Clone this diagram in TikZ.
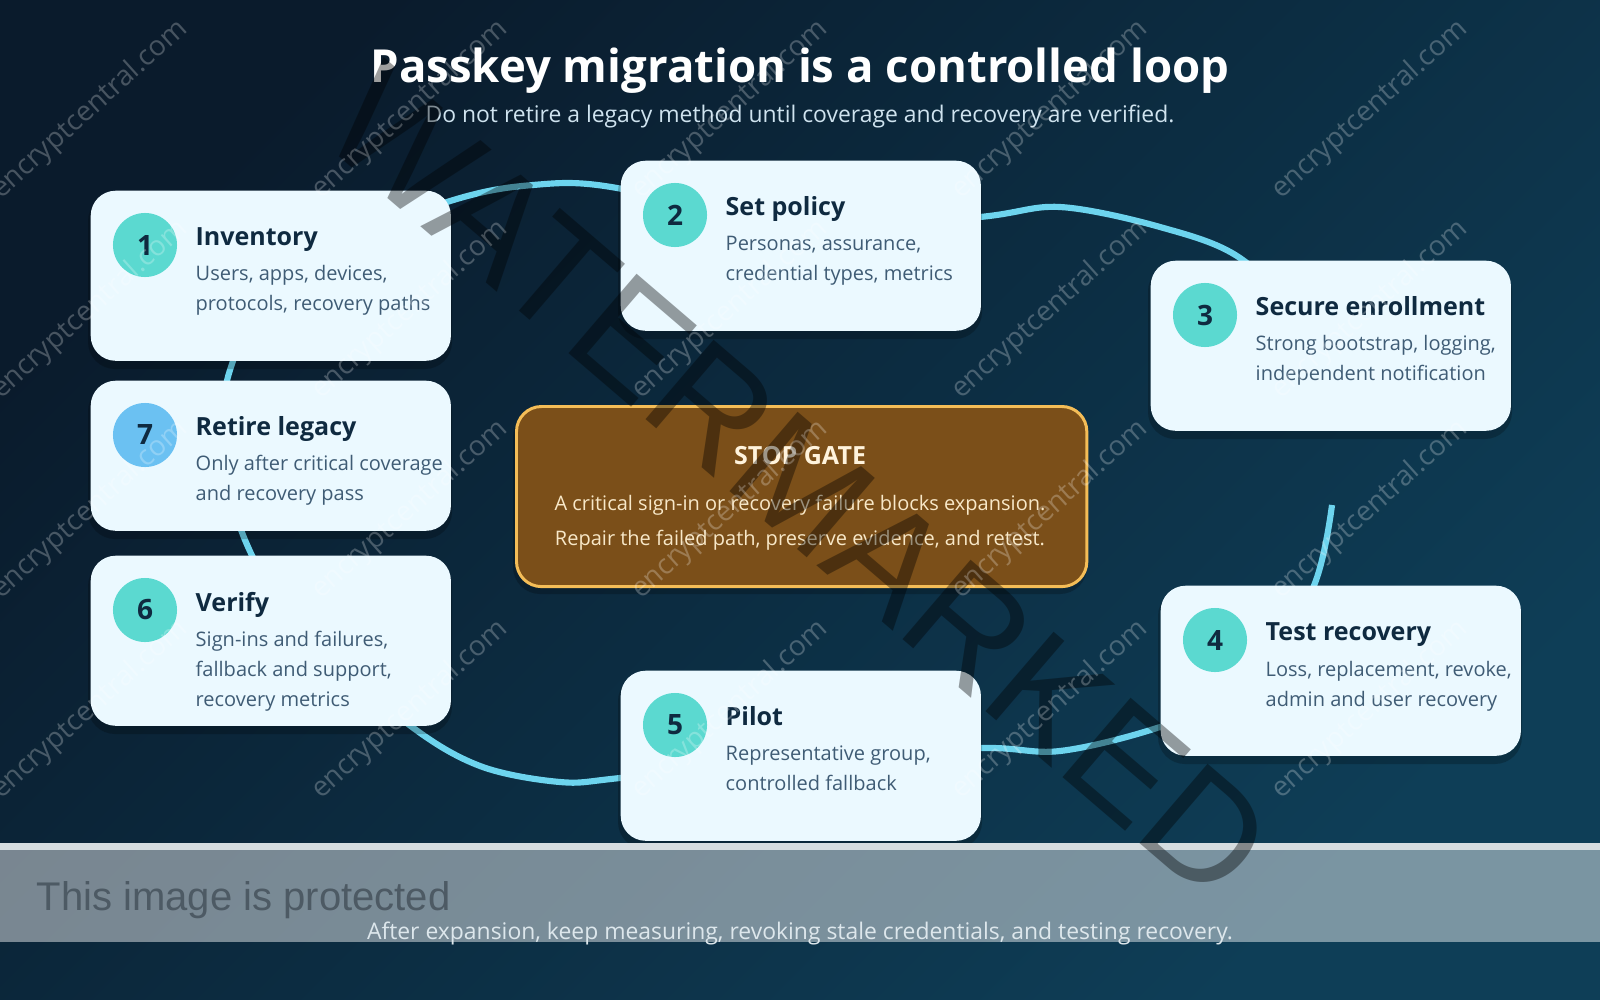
\documentclass[tikz,border=0pt]{standalone}
\usepackage{fontspec}
\setmainfont{Open Sans}
\newfontfamily\wmfont{Liberation Sans}
\definecolor{bgA}{HTML}{0A1B2C}
\definecolor{bgB}{HTML}{0E3E57}
\definecolor{cardfill}{HTML}{EBF9FF}
\definecolor{ink}{HTML}{0F2A40}
\definecolor{bodyc}{HTML}{3F5C75}
\definecolor{teal}{HTML}{5BD9D0}
\definecolor{sky}{HTML}{6BC1F2}
\definecolor{loopc}{HTML}{6DD4EE}
\definecolor{gatefill}{HTML}{7B4F19}
\definecolor{gateedge}{HTML}{F4BD57}
\definecolor{gatetitle}{HTML}{FFF3DC}
\definecolor{gatebody}{HTML}{F8E8C8}
\definecolor{subc}{HTML}{CFE3EF}
\definecolor{footc}{HTML}{DDE7EC}
\definecolor{protc}{HTML}{4D5A64}
\definecolor{bandline}{HTML}{D6DDE0}
\newcommand\pxs[2]{\fontsize{\fpeval{#1*0.28453}pt}{\fpeval{#2*0.28453}pt}\selectfont}
\begin{document}
\begin{tikzpicture}[x=0.01cm, y=-0.01cm,
  cardbox/.style={fill=cardfill, rounded corners=0.25cm, anchor=north west, minimum width=3.6cm, inner sep=0},
  cardshadow/.style={fill=black, opacity=0.22, rounded corners=0.27cm},
  numcirc/.style={circle, minimum size=0.64cm, inner sep=0, font=\bfseries\pxs{28}{30}, text=ink},
  cardtitle/.style={anchor=base west, inner sep=0, font=\bfseries\pxs{25}{30}, text=ink},
  cardbody/.style={anchor=base west, inner sep=0, font=\pxs{20}{30}, text=bodyc},
  loopline/.style={draw=loopc, line width=1.75pt},
  wmark/.style={text=white, opacity=0.25, font=\pxs{28}{30}, inner sep=0},
  bigmark/.style={text=black, opacity=0.38, font=\wmfont\pxs{152}{160}, inner sep=0}
 ]
\useasboundingbox (0,0) rectangle (1600,1000);
% background
\shade[top color=bgA, bottom color=bgB, shading angle=45] (0,0) rectangle (1600,1000);

% title
\node[anchor=base, inner sep=0, text=white, font=\bfseries\pxs{45.5}{50}] (title) at (800,82) {Passkey migration is a controlled loop};
\node[anchor=base, inner sep=0, text=subc, font=\pxs{22.9}{26}] (subtitle) at (800,122) {Do not retire a legacy method until coverage and recovery are verified.};

% loop
\draw[loopline] plot[smooth, tension=0.55] coordinates {
 (1332,505) (1315,583) (1262,685) (1160,727) (1060,751) (980,748) (800,757)
 (620,778) (560,782) (480,766) (408,724) (300,630) (245,540) (226,455) (230,370)
 (290,262) (447,202) (533,185) (617,188) (800,232) (980,217) (1060,207)
 (1160,227) (1240,258) (1310,330) (1335,420)};

% card shadows
\foreach \cx/\cy/\ch in {90/190/170, 620/160/170, 1150/260/170, 1160/585/170, 620/670/170, 90/555/170, 90/380/150}{
  \fill[cardshadow] (\cx-2,\cy+4) rectangle (\cx+362,\cy+\ch+9);
}

% card 1
\node[cardbox, minimum height=1.7cm] (card1) at (90,190) {};
\node[numcirc, fill=teal] (num1) at (145,245) {1};
\node[cardtitle] (title1) at (195,245) {Inventory};
\node[cardbody] (body1a) at (195,280) {Users, apps, devices,};
\node[cardbody] (body1b) at (195,310) {protocols, recovery paths};

% card 2
\node[cardbox, minimum height=1.7cm] (card2) at (620,160) {};
\node[numcirc, fill=teal] (num2) at (675,215) {2};
\node[cardtitle] (title2) at (725,215) {Set policy};
\node[cardbody] (body2a) at (725,250) {Personas, assurance,};
\node[cardbody] (body2b) at (725,280) {credential types, metrics};

% card 3
\node[cardbox, minimum height=1.7cm] (card3) at (1150,260) {};
\node[numcirc, fill=teal] (num3) at (1205,315) {3};
\node[cardtitle] (title3) at (1255,315) {Secure enrollment};
\node[cardbody] (body3a) at (1255,350) {Strong bootstrap, logging,};
\node[cardbody] (body3b) at (1255,380) {independent notification};

% card 4
\node[cardbox, minimum height=1.7cm] (card4) at (1160,585) {};
\node[numcirc, fill=teal] (num4) at (1215,640) {4};
\node[cardtitle] (title4) at (1265,640) {Test recovery};
\node[cardbody] (body4a) at (1265,676) {Loss, replacement, revoke,};
\node[cardbody] (body4b) at (1265,706) {admin and user recovery};

% card 5
\node[cardbox, minimum height=1.7cm] (card5) at (620,670) {};
\node[numcirc, fill=teal] (num5) at (675,725) {5};
\node[cardtitle] (title5) at (725,725) {Pilot};
\node[cardbody] (body5a) at (725,760) {Representative group,};
\node[cardbody] (body5b) at (725,790) {controlled fallback};

% card 6
\node[cardbox, minimum height=1.7cm] (card6) at (90,555) {};
\node[numcirc, fill=teal] (num6) at (145,610) {6};
\node[cardtitle] (title6) at (195,611) {Verify};
\node[cardbody] (body6a) at (195,646) {Sign-ins and failures,};
\node[cardbody] (body6b) at (195,676) {fallback and support,};
\node[cardbody] (body6c) at (195,706) {recovery metrics};

% card 7
\node[cardbox, minimum height=1.5cm] (card7) at (90,380) {};
\node[numcirc, fill=sky] (num7) at (145,435) {7};
\node[cardtitle] (title7) at (195,435) {Retire legacy};
\node[cardbody] (body7a) at (195,470) {Only after critical coverage};
\node[cardbody] (body7b) at (195,500) {and recovery pass};

% stop gate
\fill[black, opacity=0.22, rounded corners=0.27cm] (513,410) rectangle (1087,594);
\node[fill=gatefill, draw=gateedge, line width=0.85pt, rounded corners=0.25cm, minimum width=5.7cm, minimum height=1.8cm, anchor=north west, inner sep=0] (gate) at (515,405) {};
\node[anchor=base, inner sep=0, text=gatetitle, font=\bfseries\pxs{25}{28}] (gatetitle) at (800,464) {STOP GATE};
\node[anchor=base, inner sep=0, text=gatebody, font=\pxs{20}{26}] (gatebodya) at (800,510) {A critical sign-in or recovery failure blocks expansion.};
\node[anchor=base, inner sep=0, text=gatebody, font=\pxs{20}{26}] (gatebodyb) at (800,545) {Repair the failed path, preserve evidence, and retest.};

% protection banner
\fill[bandline] (0,843) rectangle (1600,850);
\fill[white, opacity=0.45] (0,850) rectangle (1600,942);
\node[anchor=base west, inner sep=0, text=protc, font=\wmfont\pxs{40}{44}] (protected) at (36,910) {This image is protected};
\node[anchor=base, inner sep=0, text=footc, font=\pxs{22.9}{26}] (footer) at (800,939) {After expansion, keep measuring, revoking stale credentials, and testing recovery.};

% watermarks
\node[bigmark, rotate=-40.6] (bigwm) at (799,482) {WATERMARKED};
\foreach \i in {0,...,4}{
  \foreach \j in {0,...,3}{
    \node[wmark, rotate=42] (wm\i\j) at (90+320*\i, 110+200*\j) {encryptcentral.com};
  }
}
\end{tikzpicture}
\end{document}
